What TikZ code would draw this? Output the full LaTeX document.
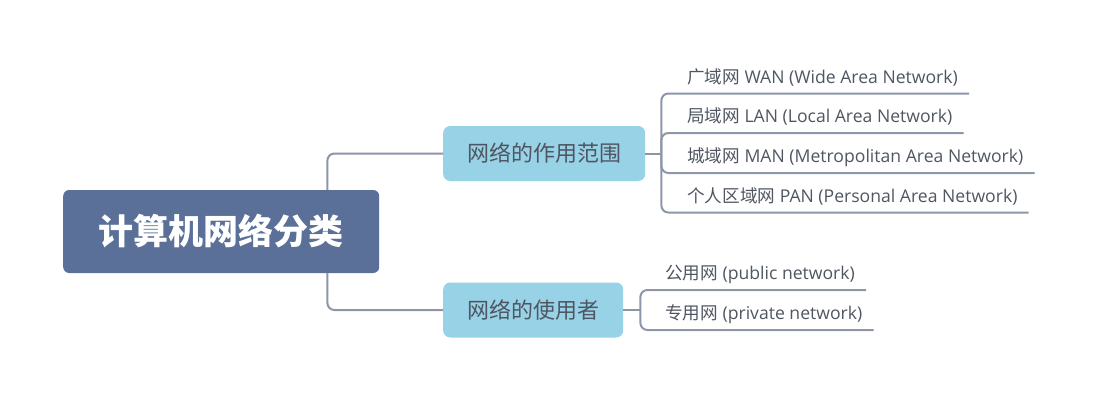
\documentclass[tikz,border=0pt]{standalone}
\usepackage{fontspec}
\setmainfont{Open Sans}
\newfontfamily\cjk{Noto Sans CJK SC}
\definecolor{rootblue}{HTML}{5A7098}
\definecolor{branchblue}{HTML}{97D2E7}
\definecolor{linkgray}{HTML}{8C96A7}
\definecolor{textgray}{HTML}{4F5661}
\tikzset{
  rootbox/.style={fill=rootblue, rounded corners=6pt, text=white, anchor=west,
    inner xsep=35.5pt, minimum height=83pt, font=\cjk\bfseries\fontsize{35}{40}\selectfont},
  branchbox/.style={fill=branchblue, rounded corners=7pt, text=textgray, anchor=west,
    inner xsep=24pt, minimum height=55pt, font=\cjk\fontsize{22}{26}\selectfont},
  leaf/.style={anchor=south west, inner xsep=11pt, inner ysep=0pt, text height=13pt,
    text depth=10pt, text=textgray, font=\fontsize{17.6}{20}\selectfont},
  link/.style={draw=linkgray, line width=2pt, rounded corners=7pt},
}

\begin{document}
\begin{tikzpicture}[x=1pt,y=-1pt]
  \useasboundingbox (0,0) rectangle (1095,400);

  % Root
  \node[rootbox] (root) at (63,231.5) {计算机网络分类};

  % Branches
  \node[branchbox] (range) at (443,153.5) {网络的作用范围};
  \node[branchbox] (users) at (443,310) {网络的使用者};

  % Leaves by range
  \node[leaf] (wan) at (676,93.5)  {{\cjk 广域网} WAN (Wide Area Network)};
  \node[leaf] (lan) at (676,133)   {{\cjk 局域网} LAN (Local Area Network)};
  \node[leaf] (man) at (676,173)   {{\cjk 城域网} MAN (Metropolitan Area Network)};
  \node[leaf] (pan) at (676,212.5) {{\cjk 个人区域网} PAN (Personal Area Network)};

  % Leaves by users
  \node[leaf] (public)  at (654,290) {{\cjk 公用网} (public network)};
  \node[leaf] (private) at (654,330) {{\cjk 专用网} (private network)};

  % Root to branches
  \draw[link] ([xshift=-52pt]root.north east) |- (range.west);
  \draw[link] ([xshift=-52pt]root.south east) |- (users.west);

  % Range fork
  \draw[link] (range.east) -- ++(16,0) coordinate (rangefork);
  \draw[link] (rangefork) |- (wan.south east);
  \draw[link] (rangefork) |- (lan.south east);
  \draw[link] (rangefork) |- (man.south east);
  \draw[link] (rangefork) |- (pan.south east);

  % Users fork
  \draw[link] (users.east) -- ++(17,0) coordinate (usersfork);
  \draw[link] (usersfork) |- (public.south east);
  \draw[link] (usersfork) |- (private.south east);
\end{tikzpicture}
\end{document}
